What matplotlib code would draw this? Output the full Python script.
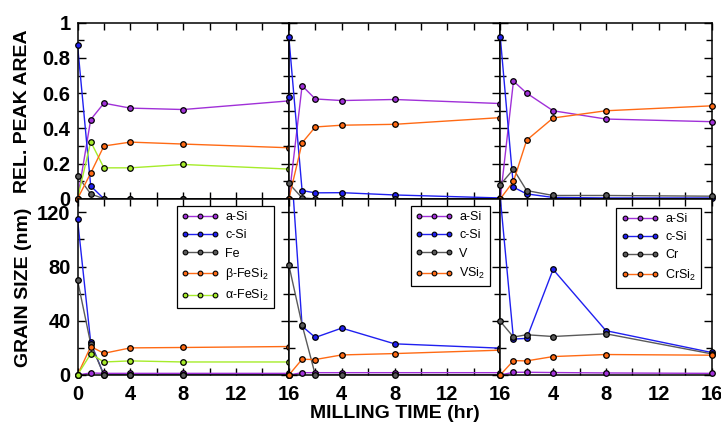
import numpy as np
import matplotlib
matplotlib.use("Agg")
import matplotlib.pyplot as plt
from matplotlib.ticker import MultipleLocator, FuncFormatter

plt.rcParams['font.family'] = ['Liberation Sans', 'DejaVu Sans']
plt.rcParams['mathtext.default'] = 'regular'

# milling times (hr)
t = [0, 1, 2, 4, 8, 16]

# --- Fe + Si ---
fe_asi_area = [0, 0.45, 0.543, 0.515, 0.507, 0.556]
fe_csi_area = [0.875, 0.073, 0, 0, 0, 0]
fe_fe_area = [0.131, 0.028, 0, 0, 0, 0]
fe_beta_area = [0, 0.146, 0.30, 0.322, 0.311, 0.29]
fe_alpha_area = [0, 0.324, 0.176, 0.176, 0.195, 0.169]

fe_asi_size = [0, 1.5, 1.2, 1.2, 1.2, 1.2]
fe_csi_size = [115, 24, 0, 0, 0, 0]
fe_fe_size = [70, 23, 0, 0, 0, 0]
fe_beta_size = [0, 21, 16, 20, 20.3, 21]
fe_alpha_size = [0, 15.6, 9.6, 10.4, 9.6, 9.6]

# --- V + Si ---
v_asi_area = [0, 0.642, 0.567, 0.558, 0.564, 0.541]
t_v_csi_area = [0, 0, 1, 2, 4, 8, 16]
v_csi_area = [0.58, 0.917, 0.047, 0.034, 0.035, 0.022, 0.005]
v_v_area = [0.088, 0.005, 0, 0, 0, 0]
v_vsi2_area = [0, 0.318, 0.408, 0.418, 0.423, 0.461]

v_asi_size = [0, 1.7, 1.7, 1.7, 1.7, 1.7]
v_csi_size = [180, 36, 27.7, 34.6, 23, 19.8]
v_v_size = [81, 37, 0, 0, 0, 0]
v_vsi2_size = [0, 11.6, 11.4, 14.8, 15.8, 18.3]

# --- Cr + Si ---
cr_asi_area = [0, 0.668, 0.6, 0.5, 0.453, 0.438]
cr_csi_area = [0.92, 0.066, 0.028, 0.008, 0.005, 0.005]
cr_cr_area = [0.08, 0.168, 0.047, 0.019, 0.019, 0.015]
cr_crsi2_area = [0, 0.099, 0.333, 0.459, 0.5, 0.528]

cr_asi_size = [0, 2, 2, 1.8, 1.5, 1.2]
cr_csi_size = [131, 26.5, 27, 77.9, 32.7, 16.6]
cr_cr_size = [39.6, 28, 29.7, 28.4, 30.4, 15.6]
cr_crsi2_size = [0, 10.6, 10.4, 13.6, 15.1, 14.6]

PURPLE = '#a030d8'
BLUE = '#2020f0'
GRAY = '#5a5a5a'
ORANGE = '#ff6a14'
GREEN = '#a6ec2a'

TOP_MAX = 1.0
BOT_MAX = 130

fig, axes = plt.subplots(2, 3, figsize=(7.21, 4.24), dpi=100)
fig.subplots_adjust(left=0.1075, right=0.987, top=0.9465, bottom=0.1156,
                    wspace=0, hspace=0)


def series(ax, x, y, color, label=None, ymax=1.0):
    x = np.asarray(x, float)
    y = np.asarray(y, float)
    ax.plot(x, y, color=color, lw=1.0, zorder=2)
    m = y <= ymax
    ax.plot(x[m], y[m], 'o', ms=4.0, mfc=color, mec='black', mew=0.9,
            clip_on=False, zorder=3)
    # legend proxy
    ax.plot([], [], '-o', color=color, lw=1.0, ms=3.4, mfc=color, mec='black',
            mew=0.8, label=label)


# column 1: Fe
a = axes[0, 0]
series(a, t, fe_asi_area, PURPLE)
series(a, t, fe_csi_area, BLUE)
series(a, t, fe_fe_area, GRAY)
series(a, t, fe_alpha_area, GREEN)
series(a, t, fe_beta_area, ORANGE)
a = axes[1, 0]
series(a, t, fe_asi_size, PURPLE, 'a-Si', BOT_MAX)
series(a, t, fe_csi_size, BLUE, 'c-Si', BOT_MAX)
series(a, t, fe_fe_size, GRAY, 'Fe', BOT_MAX)
series(a, t, fe_beta_size, ORANGE, 'β-FeSi$_2$', BOT_MAX)
series(a, t, fe_alpha_size, GREEN, 'α-FeSi$_2$', BOT_MAX)

# column 2: V
a = axes[0, 1]
series(a, t, v_asi_area, PURPLE)
series(a, t_v_csi_area, v_csi_area, BLUE)
series(a, t, v_v_area, GRAY)
series(a, t, v_vsi2_area, ORANGE)
a = axes[1, 1]
series(a, t, v_asi_size, PURPLE, 'a-Si', BOT_MAX)
series(a, t, v_csi_size, BLUE, 'c-Si', BOT_MAX)
series(a, t, v_v_size, GRAY, 'V', BOT_MAX)
series(a, t, v_vsi2_size, ORANGE, 'VSi$_2$', BOT_MAX)

# column 3: Cr
a = axes[0, 2]
series(a, t, cr_asi_area, PURPLE)
series(a, t, cr_csi_area, BLUE)
series(a, t, cr_cr_area, GRAY)
series(a, t, cr_crsi2_area, ORANGE)
a = axes[1, 2]
series(a, t, cr_asi_size, PURPLE, 'a-Si', BOT_MAX)
series(a, t, cr_csi_size, BLUE, 'c-Si', BOT_MAX)
series(a, t, cr_cr_size, GRAY, 'Cr', BOT_MAX)
series(a, t, cr_crsi2_size, ORANGE, 'CrSi$_2$', BOT_MAX)

legend_anchor = [(0.9295, 0.958), (0.9527, 0.958), (0.949, 0.9486)]

for r in range(2):
    for c in range(3):
        ax = axes[r, c]
        ax.set_xlim(0, 16)
        ax.xaxis.set_major_locator(MultipleLocator(4))
        ax.xaxis.set_minor_locator(MultipleLocator(2))
        if r == 0:
            ax.set_ylim(0, TOP_MAX)
            ax.yaxis.set_major_locator(MultipleLocator(0.2))
            ax.yaxis.set_minor_locator(MultipleLocator(0.1))
            ax.yaxis.set_major_formatter(FuncFormatter(lambda v, p: f'{v:g}'))
        else:
            ax.set_ylim(0, BOT_MAX)
            ax.yaxis.set_major_locator(MultipleLocator(40))
            ax.yaxis.set_minor_locator(MultipleLocator(20))
        ax.tick_params(which='both', direction='in', top=True, right=True,
                       width=1.0, colors='black')
        ax.tick_params(axis='y', which='major', length=6)
        ax.tick_params(axis='y', which='minor', length=4)
        ax.tick_params(axis='x', which='both', length=5)
        ax.tick_params(axis='x', pad=7)
        ax.tick_params(axis='y', pad=5)
        for lab in ax.get_xticklabels() + ax.get_yticklabels():
            lab.set_fontweight('bold')
            lab.set_fontsize(14.5)
        for s in ax.spines.values():
            s.set_linewidth(1.1)
        if r == 0:
            ax.tick_params(labelbottom=False)
        else:
            if c > 0:
                ax.xaxis.set_major_formatter(
                    FuncFormatter(lambda v, p: '' if v == 0 else f'{v:g}'))
        if c > 0:
            ax.tick_params(labelleft=False)
        if r == 1:
            leg = ax.legend(loc='upper right', bbox_to_anchor=legend_anchor[c],
                            borderaxespad=0, fontsize=9, numpoints=3,
                            handlelength=3.0, labelspacing=0.5,
                            handletextpad=0.5, borderpad=0.4,
                            fancybox=False, framealpha=1, edgecolor='black')
            leg.get_frame().set_linewidth(0.9)

fig.text(0.031, 0.737, 'REL. PEAK AREA', rotation=90, ha='center',
         va='center', fontsize=14, fontweight='bold')
fig.text(0.033, 0.322, 'GRAIN SIZE (nm)', rotation=90, ha='center',
         va='center', fontsize=14, fontweight='bold')
fig.text(0.547, 0.024, 'MILLING TIME (hr)', ha='center', va='center',
         fontsize=14, fontweight='bold')

fig.savefig('out.png', dpi=100)
